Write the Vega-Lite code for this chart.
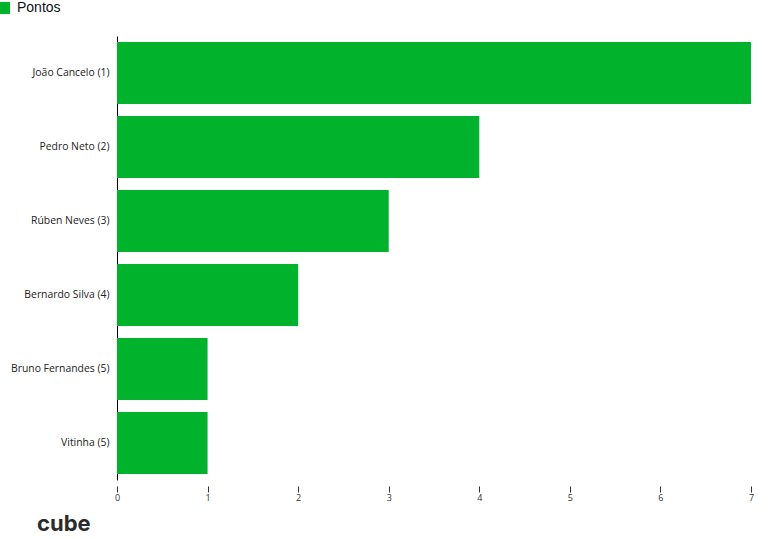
{
  "$schema": "https://vega.github.io/schema/vega-lite/v6.json",
  "width": 634,
  "height": 444,
  "autosize": {"type": "none"},
  "padding": {"left": 117, "top": 36, "right": 19, "bottom": 59},
  "background": "white",
  "data": {"values": [
    {"player": "João Cancelo (1)", "pontos": 7, "serie": "Pontos"},
    {"player": "Pedro Neto (2)", "pontos": 4, "serie": "Pontos"},
    {"player": "Rúben Neves (3)", "pontos": 3, "serie": "Pontos"},
    {"player": "Bernardo Silva (4)", "pontos": 2, "serie": "Pontos"},
    {"player": "Bruno Fernandes (5)", "pontos": 1, "serie": "Pontos"},
    {"player": "Vitinha (5)", "pontos": 1, "serie": "Pontos"}
  ]},
  "title": {
    "text": "cube",
    "orient": "bottom",
    "anchor": "start",
    "frame": "group",
    "dx": -80,
    "offset": 12,
    "fontSize": 22,
    "fontWeight": "bold",
    "font": "Inter",
    "color": "#2b2b2b"
  },
  "mark": {"type": "bar"},
  "encoding": {
    "y": {
      "field": "player",
      "type": "nominal",
      "sort": null,
      "scale": {"paddingInner": 0.16, "paddingOuter": 0.08},
      "axis": {
        "title": null,
        "ticks": false,
        "domain": true,
        "domainColor": "#000000",
        "domainWidth": 1,
        "labelPadding": 8,
        "labelFont": "Open Sans",
        "labelFontSize": 10.4,
        "labelColor": "#222222",
        "grid": false
      }
    },
    "x": {
      "field": "pontos",
      "type": "quantitative",
      "scale": {"domain": [0, 7], "nice": false},
      "axis": {
        "title": null,
        "domain": false,
        "grid": false,
        "values": [0, 1, 2, 3, 4, 5, 6, 7],
        "labelOverlap": false,
        "labelBound": false,
        "labelFlush": false,
        "format": "d",
        "offset": 6,
        "tickSize": 6,
        "tickColor": "#333333",
        "labelPadding": 1,
        "labelFont": "Open Sans",
        "labelFontSize": 9,
        "labelColor": "#333333"
      }
    },
    "color": {
      "field": "serie",
      "type": "nominal",
      "scale": {"range": ["#00b22c"]},
      "legend": {
        "title": null,
        "orient": "none",
        "legendX": -120,
        "legendY": -35,
        "padding": 0,
        "symbolType": "square",
        "symbolSize": 144,
        "symbolOffset": 0,
        "symbolStrokeWidth": 0,
        "labelFont": "Liberation Sans",
        "labelFontSize": 14,
        "labelColor": "#111111",
        "labelOffset": 6
      }
    }
  },
  "config": {"view": {"stroke": null}}
}
